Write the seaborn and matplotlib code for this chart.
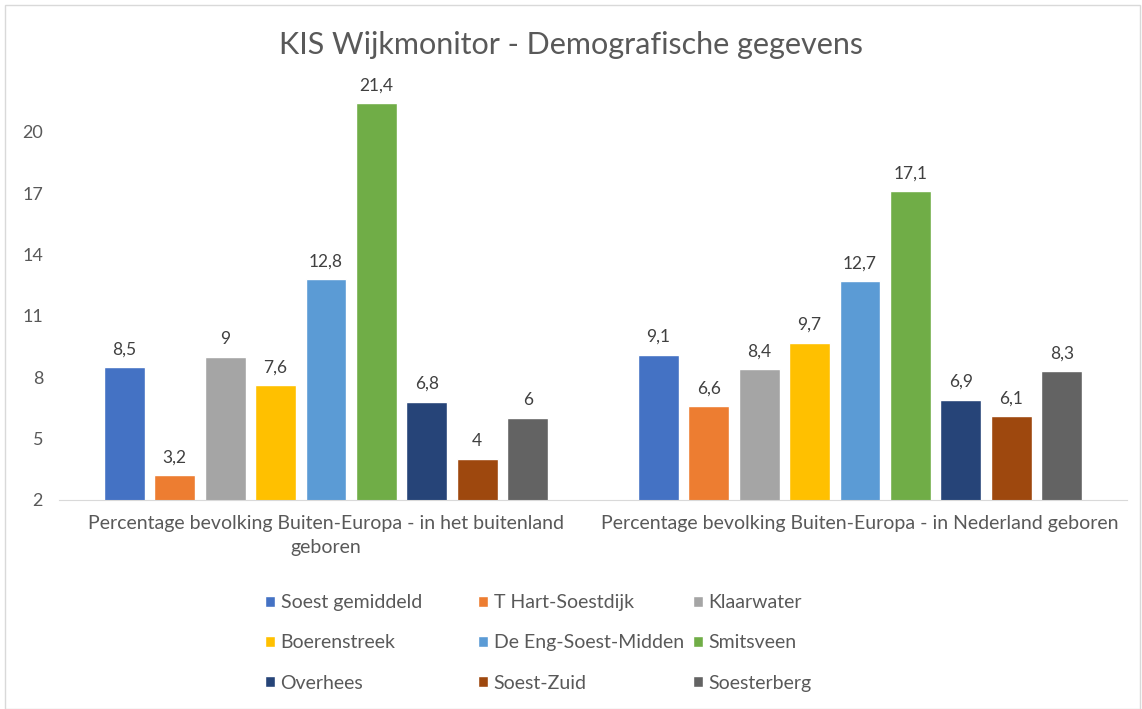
import pandas as pd
import matplotlib.pyplot as plt
import seaborn as sns
from matplotlib.patches import Rectangle

# Chart values
categories = ['Percentage bevolking Buiten-Europa - in het buitenland\ngeboren',
              'Percentage bevolking Buiten-Europa - in Nederland geboren']
districts = ['Soest gemiddeld', 'T Hart-Soestdijk', 'Klaarwater', 'Boerenstreek',
             'De Eng-Soest-Midden', 'Smitsveen', 'Overhees', 'Soest-Zuid', 'Soesterberg']
buitenland = [8.5, 3.2, 9, 7.6, 12.8, 21.4, 6.8, 4, 6]
nederland = [9.1, 6.6, 8.4, 9.7, 12.7, 17.1, 6.9, 6.1, 8.3]
colors = ['#4472C4', '#ED7D31', '#A5A5A5', '#FFC000', '#5B9BD5',
          '#70AD47', '#264478', '#9E480E', '#636363']

df = pd.DataFrame({
    'categorie': [categories[0]] * len(districts) + [categories[1]] * len(districts),
    'wijk': districts * 2,
    'waarde': buitenland + nederland,
})

sns.set_style('white')
plt.rcParams['font.family'] = ['Lato', 'DejaVu Sans']
grey = '#595959'

fig = plt.figure(figsize=(11.42, 7.09), dpi=100)
ax = fig.add_axes([59 / 1142, 1 - 500 / 709, (1127 - 59) / 1142, 409 / 709])

sns.barplot(data=df, x='categorie', y='waarde', hue='wijk', palette=colors,
            width=0.85, gap=0.19, ax=ax, saturation=1)

ax.set_ylim(2, 22)
ax.set_xlim(-0.5, 1.5)
ax.set_yticks([2, 5, 8, 11, 14, 17, 20])
ax.tick_params(axis='both', length=0, colors=grey, labelsize=13)
ax.tick_params(axis='y', pad=11.5)
ax.tick_params(axis='x', pad=11, labelsize=14)
for lbl in ax.get_xticklabels():
    lbl.set_linespacing(1.5)
ax.set_xlabel('')
ax.set_ylabel('')
for side in ['top', 'right', 'left']:
    ax.spines[side].set_visible(False)
ax.spines['bottom'].set_color('#D9D9D9')

for cont in ax.containers:
    labels = [('%g' % b.get_height()).replace('.', ',') for b in cont]
    ax.bar_label(cont, labels=labels, padding=7, fontsize=12.5, color='#404040')

# legend: three columns filled row by row, placed like the original
handles, labels = ax.get_legend_handles_labels()
ax.get_legend().remove()
col_x = [265, 478, 693]
for c in range(3):
    fig.legend(handles[c::3], labels[c::3], loc='upper left',
               bbox_to_anchor=(col_x[c] / 1142, 1 - 594 / 709), frameon=False,
               fontsize=14, handlelength=0.5, handleheight=0.5, handletextpad=0.3,
               labelspacing=1.2, labelcolor=grey, borderaxespad=0, borderpad=0)

fig.suptitle('KIS Wijkmonitor - Demografische gegevens', y=1 - 45 / 709,
             va='center', fontsize=22, color=grey)

fig.patches.append(Rectangle((5 / 1142, 0), 1 - 7 / 1142, 1 - 5 / 709,
                             transform=fig.transFigure, fill=False,
                             edgecolor='#D9D9D9', linewidth=1))

fig.savefig('out.png', dpi=100)
